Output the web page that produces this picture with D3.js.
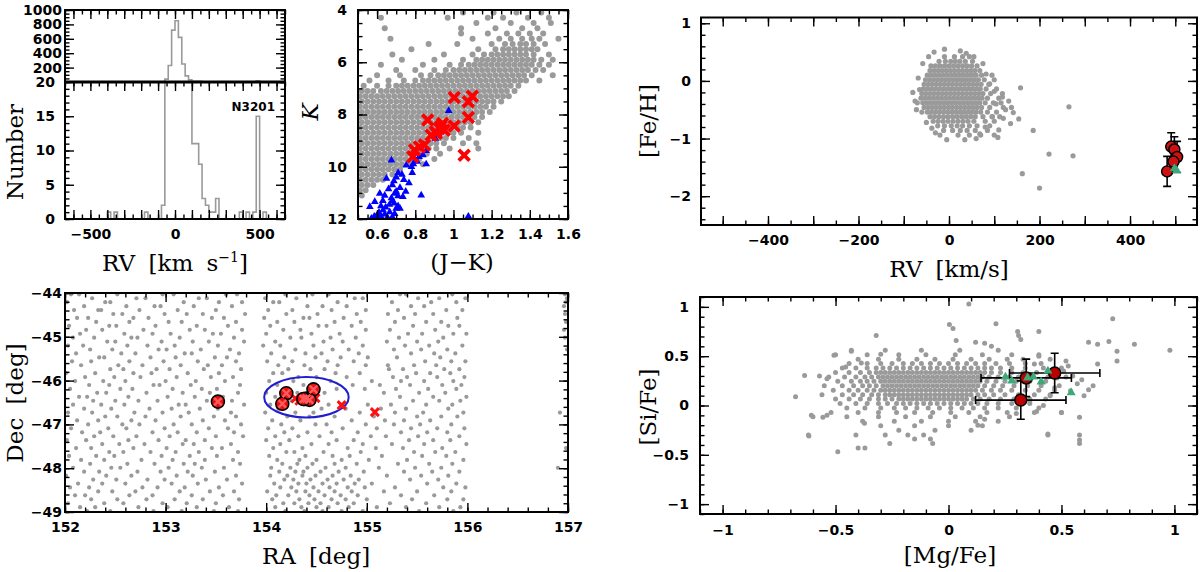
<!DOCTYPE html>
<html>
<head>
<meta charset="utf-8">
<script src="https://cdn.jsdelivr.net/npm/d3@7"></script>
<style>
  body { margin: 0; background: #fff; }
  .axis text { font-family: "DejaVu Sans", sans-serif; font-weight: bold; font-size: 14px; fill: #000; }
  .axis line { stroke: #000; stroke-width: 1.4; }
  .title { font-family: "DejaVu Serif", serif; font-size: 23px; fill: #000; }
  .frame { fill: none; stroke: #000; stroke-width: 2; }
</style>
</head>
<body>
<svg id="chart" width="1200" height="572"></svg>
<script>
// ---------------- data ----------------
// RV histogram (20 km/s bins, only non-empty bins listed)
var rvBinLo = [-400, -360, -180, -80, -60, -40, -20, 0, 20, 40, 60, 80, 100, 120, 140, 160, 180, 200, 220, 240, 380, 420, 460, 480, 520];
var rvBinN  = [1, 1, 1, 2, 40, 230, 720, 850, 620, 250, 85, 30, 11, 11, 8, 3, 2, 1, 1, 3, 1, 1, 1, 15, 1];
var rvBinWidth = 20;

// CMD field stars: [K, "J-K in hundredths"]
var cmdGray = [
  [4.1, "105 121 133 146"],
  [4.3, "62 97 118 126 139 150"],
  [4.5, "112 130 142 151"],
  [4.7, "64 104 122 136 144"],
  [4.9, "104 118 128 134 140 147"],
  [5.1, "67 110 124 130 136 141 145 155"],
  [5.3, "87 102 120 127 131 135 138 142 148"],
  [5.5, "78 113 122 126 129 132 135 138 141 144"],
  [5.7, "68 95 110 116 120 123 126 129 132 135 138 142 150"],
  [5.9, "73 90 105 112 115 118 121 124 127 130 133 136 139 142 146 152"],
  [6.1, "62 84 98 104 108 111 114 117 120 123 126 129 132 135 138 141 145 150"],
  [6.3, "70 80 90 96 100 103 106 109 112 115 118 121 124 127 130 133 136 139 143 147"],
  [6.5, "60 72 83 88 92 95 98 101 104 107 110 113 116 119 122 125 128 131 134 137 141 152"],
  [6.7, "56 66 74 80 84 87 90 93 96 99 102 105 108 111 114 117 120 123 126 129 132 135 138 145"],
  [6.9, "53 60 66 70 73 76 79 82 85 88 91 94 97 100 103 106 109 112 115 118 121 124 127 130 134"],
  [7.1, "52 55 58 62 65 68 71 74 77 80 83 86 89 92 95 98 101 104 107 110 113 116 119 122 125 128 132"],
  [7.3, "51 54 57 60 63 66 69 72 75 78 81 84 87 90 93 96 99 102 105 108 111 114 117 120 123 126 129"],
  [7.5, "52 55 58 61 64 67 70 73 76 79 82 85 88 91 94 97 100 103 106 109 112 115 118 121 125"],
  [7.7, "51 54 57 60 63 66 69 72 75 78 81 84 87 90 93 96 99 102 105 108 111 114 117 121"],
  [7.9, "52 55 58 61 64 67 70 73 76 79 82 85 88 91 94 97 100 103 106 109 112 115 119"],
  [8.1, "51 54 57 60 63 66 69 72 75 78 81 84 87 90 93 96 99 102 105 108 111 115"],
  [8.3, "52 55 58 61 64 67 70 73 76 79 82 85 88 91 94 97 100 103 106 109 113"],
  [8.5, "51 54 57 60 63 66 69 72 75 78 81 84 87 90 93 96 99 102 105 109"],
  [8.7, "52 55 58 61 64 67 70 73 76 79 82 85 88 91 94 97 100 104 113"],
  [8.9, "51 54 57 60 63 66 69 72 75 78 81 84 87 90 93 96 100 108"],
  [9.1, "52 55 58 61 64 67 70 73 76 79 82 85 88 91 95 105 112"],
  [9.3, "51 54 57 60 63 66 69 72 75 78 81 84 87 91 98 113"],
  [9.5, "52 55 58 61 64 67 70 73 76 79 82 86 93"],
  [9.7, "51 54 57 60 63 66 69 72 75 78 82 90"],
  [9.9, "52 55 58 61 64 67 70 73 77 84"],
  [10.1, "51 54 57 60 63 66 69 72"],
  [10.3, "52 55 58 61 64 68"],
  [10.5, "51 54 57 60 63"],
  [10.7, "52 55 58"],
  [10.9, "51 54"],
  [11.1, "52"]
];
var cmdXJK = [1.004, 1.078, 1.099, 1.078, 0.865, 1.004, 0.943, 0.926, 0.905, 0.883, 0.952, 0.848, 0.822, 0.796, 0.787, 1.056, 0.91, 0.935];
var cmdXK  = [7.35, 7.51, 7.30, 8.11, 8.21, 8.44, 8.34, 8.53, 8.66, 8.79, 8.60, 9.17, 9.24, 9.36, 9.62, 9.56, 8.72, 8.45];
var cmdTriJK = [0.975, 0.905, 0.857, 0.84, 0.82, 0.80, 0.675, 0.753, 0.857, 0.784, 0.71, 0.73, 0.70, 0.767, 0.831, 0.649, 0.68, 0.66, 0.70, 0.72,
                0.614, 0.692, 0.71, 0.675, 0.562, 0.588, 0.631, 0.666, 0.692, 0.60, 0.62, 0.64, 0.655, 0.68, 0.70, 0.61, 0.585, 0.645, 0.665, 0.69,
                0.72, 0.735, 0.75, 0.63, 1.078, 0.78, 0.79, 0.81, 0.74, 0.688, 0.64, 0.68, 0.62, 0.71, 0.65, 0.60, 0.57];
var cmdTriK  = [7.86, 8.92, 9.39, 9.55, 9.62, 9.75, 9.75, 9.94, 9.90, 10.23, 10.23, 10.3, 10.4, 10.62, 11.09, 10.45, 10.7, 10.85, 10.95, 10.8,
                11.02, 11.02, 11.12, 11.2, 11.53, 11.34, 11.66, 11.73, 11.8, 11.85, 11.9, 11.82, 11.95, 11.92, 11.6, 11.75, 11.9, 11.55, 11.45, 11.4,
                11.6, 11.15, 10.95, 11.3, 11.9, 10.0, 9.9, 9.8, 10.5, 10.55, 11.1, 11.3, 11.5, 11.5, 12.0, 12.0, 11.98];

// sky positions: [Dec, "(RA - 152) in hundredths"]
var skyGray = [
  [-44.03, "6 14 52 97 108 160 171 219 246 262 333 339 385 497"],
  [-44.12, "27 71 80 133 141 199 230 288 296 351 372 398 499"],
  [-44.21, "2 40 45 118 153 176 207 213 271 325 364 389 498"],
  [-44.30, "19 61 89 95 128 166 241 256 280 344 357 496"],
  [-44.39, "9 33 36 74 112 150 202 226 265 299 331 379 395"],
  [-44.48, "48 57 99 121 137 179 220 251 290 321 348 366 497"],
  [-44.57, "12 23 68 83 146 158 198 237 243 277 337 390"],
  [-44.66, "31 64 103 116 170 211 228 268 294 328 359 374 498"],
  [-44.75, "4 44 51 90 131 162 204 252 260 285 346 381 392"],
  [-44.84, "21 37 78 124 139 176 217 234 299 323 368 496"],
  [-44.93, "15 59 87 105 147 155 200 245 273 341 355 386 399"],
  [-45.02, "8 29 66 72 114 168 224 235 264 289 332 376 497"],
  [-45.11, "42 50 96 127 143 178 209 257 276 320 350 371"],
  [-45.20, "3 18 62 82 109 152 197 214 247 296 338 362 395"],
  [-45.29, "25 47 93 101 135 164 229 266 282 327 354 380 499"],
  [-45.38, "11 56 70 119 126 173 205 239 255 292 344 367 388"],
  [-45.47, "34 39 85 110 149 161 218 249 274 301 330 373"],
  [-45.56, "7 26 64 98 132 170 201 226 261 287 358 384 398"],
  [-45.65, "16 53 77 115 142 156 212 238 271 299 321 347 369"],
  [-45.74, "45 58 91 104 138 175 222 244 258 322 336 377 392"],
  [-45.83, "1 30 68 86 122 153 207 216 269 293 349 363 383"],
  [-45.92, "20 49 75 111 145 167 232 250 280 326 340 370 397"],
  [-46.01, "10 38 60 100 130 159 203 227 264 305 334 357 386"],
  [-46.10, "24 44 88 94 125 174 211 237 286 313 343 375 394"],
  [-46.19, "5 55 67 107 136 151 218 245 270 298 329 361 389"],
  [-46.28, "32 41 81 117 144 172 200 231 258 317 352 378"],
  [-46.37, "14 22 63 102 129 157 209 240 333 366 399"],
  [-46.46, "28 50 73 92 141 166 225 346 372 393"],
  [-46.55, "8 36 59 113 120 178 204 238 262 301 324 359 385"],
  [-46.64, "19 46 84 106 134 152 212 255 279 314 339 381"],
  [-46.73, "3 27 69 97 123 165 199 229 247 293 328 356 396 492"],
  [-46.82, "40 52 80 115 148 170 221 243 268 307 350 374 390"],
  [-46.91, "12 33 66 90 137 159 206 234 285 318 337 363"],
  [-47.00, "23 57 74 108 126 175 215 249 260 299 327 353 384"],
  [-47.09, "6 43 61 99 143 162 202 226 276 310 344 370 397"],
  [-47.18, "17 35 87 112 131 168 218 241 265 291 334 360 380"],
  [-47.27, "29 48 71 104 150 177 209 232 253 304 319 351 392"],
  [-47.36, "2 21 63 93 120 139 200 223 270 287 342 366 383"],
  [-47.45, "37 54 79 117 128 165 214 245 262 296 325 357 399"],
  [-47.54, "11 26 68 101 146 156 207 236 281 309 336 375 498"],
  [-47.63, "44 58 85 110 133 172 220 228 257 294 347 368 388"],
  [-47.72, "4 31 49 96 124 151 203 239 266 283 315 355 379"],
  [-47.81, "16 39 76 107 139 167 211 233 250 275 302 340 396"],
  [-47.90, "25 62 89 118 129 174 216 231 246 268 290 331 362 385"],
  [-47.99, "8 46 55 103 136 158 205 224 241 259 279 312 348 374 490"],
  [-48.08, "19 34 72 95 122 149 213 229 237 254 272 297 337 365 392"],
  [-48.17, "1 41 66 111 127 170 204 221 236 249 266 284 320 354 381"],
  [-48.26, "28 51 82 99 140 161 218 227 244 261 277 292 343 371"],
  [-48.35, "13 37 60 106 132 176 208 232 240 256 270 288 305 360 389"],
  [-48.44, "5 24 77 92 119 153 214 225 247 263 281 298 328 376 398"],
  [-48.53, "33 47 70 114 144 168 201 230 239 252 268 285 317 350 384"],
  [-48.62, "10 20 64 87 126 157 210 222 243 258 274 291 334 367"],
  [-48.71, "26 52 81 109 137 173 206 233 248 265 279 300 345 380 396"],
  [-48.80, "3 39 58 97 121 150 217 228 242 254 271 287 323 359"],
  [-48.89, "15 30 73 102 131 163 209 235 250 262 282 310 339 372 393"],
  [-48.98, "22 45 88 116 148 172 219 238 256 275 296 352 386"]
];
var memRA  = [153.52, 154.20, 154.16, 154.47, 154.40, 154.43, 154.37];
var memDec = [-46.48, -46.29, -46.53, -46.20, -46.41, -46.44, -46.42];
var candRA  = [154.29, 154.33, 154.49, 154.75, 155.08];
var candDec = [-46.41, -46.46, -46.40, -46.56, -46.72];
var clusterCentre = [154.40, -46.38];
var clusterRadius = [0.42, 0.46];

// [Fe/H] vs RV field stars: [FeH, "RV values"]
var feGray = [
  [0.42, "-10 12 30 45"],
  [0.34, "-22 -8 4 14 24 36 52"],
  [0.26, "-40 -30 -20 -10 0 10 20 30 40 50 62"],
  [0.18, "-42 -33 -24 -15 -6 3 12 21 30 39 48 57 68"],
  [0.10, "-48 -39 -30 -21 -12 -3 6 15 24 33 42 51 60 72 95"],
  [0.02, "-52 -43 -34 -25 -16 -7 2 11 20 29 38 47 56 65 78 100"],
  [-0.06, "-55 -46 -37 -28 -19 -10 -1 8 17 26 35 44 53 62 71 88"],
  [-0.14, "-57 -48 -39 -30 -21 -12 -3 6 15 24 33 42 51 60 69 82 105"],
  [-0.22, "-60 -51 -42 -33 -24 -15 -6 3 12 21 30 39 48 57 66 75 92 118"],
  [-0.30, "-62 -53 -44 -35 -26 -17 -8 1 10 19 28 37 46 55 64 73 85 110"],
  [-0.38, "-70 -58 -49 -40 -31 -22 -13 -4 5 14 23 32 41 50 59 68 80 98 115"],
  [-0.46, "-55 -46 -37 -28 -19 -10 -1 8 17 26 35 44 53 62 72 90 120 138"],
  [-0.54, "-60 -48 -39 -30 -21 -12 -3 6 15 24 33 42 51 60 70 85 105"],
  [-0.62, "-42 -32 -22 -12 -2 8 18 28 38 48 58 75 95 112"],
  [-0.70, "-35 -24 -13 -2 9 20 31 42 55 80 100"],
  [-0.78, "-25 -10 5 18 30 45 62 90"],
  [-0.86, "-12 8 25 40 58 85"],
  [-0.94, "-20 20 45 70 100"],
  [-1.02, "-5 35"]
];
var feOutRV  = [158, 265, 186, 221, 274, 162, 200, 154, 136, 118, 125, 110, -65, -75, 60, -33, 38,
                -80, -72, -68, -58, -50, -45, -30, -38, 75, 82, 90, 100, 104, 96, 120, 80, 68, 108, -10, 25, 55, 132, 142];
var feOutFeH = [-0.12, -0.45, -0.86, -1.27, -1.30, -1.61, -1.86, -0.66, -0.74, -0.28, -0.50, -0.85, -0.15, -0.35, -1.0, 0.50, 0.48,
                -0.2, -0.5, 0.05, 0.3, -0.72, 0.42, -0.9, -0.82, 0.3, 0.12, -0.05, -0.18, -0.4, -0.62, -0.65, -0.8, -0.92, -0.98, 0.55, 0.52, 0.42, -0.35, -0.55];
var memRV     = [491, 498, 504, 496, 482];
var memFeH    = [-1.14, -1.19, -1.32, -1.40, -1.57];
var memFeHErr = [0.24, 0.22, 0.27, 0.08, 0.26];
var triRV  = [498, 503];
var triFeH = [-1.52, -1.55];

// [Si/Fe] vs [Mg/Fe] field stars: [SiFe, "MgFe in hundredths"]
var siGray = [
  [0.56, "-43 -28 -12 5 22"],
  [0.515, "-50 -36 -22 -10 3 15 28 40"],
  [0.47, "-40 -31 -22 -14 -6 2 10 18 26 33"],
  [0.425, "-44 -36 -30 -25 -20 -16 -12 -8 -4 0 4 8 12 16 21 27 34 41"],
  [0.38, "-47 -41 -36 -32 -29 -26 -23 -20 -17 -14 -11 -8 -5 -2 1 4 7 10 13 16 19 23 28 34 42 50"],
  [0.335, "-50 -44 -39 -35 -32 -30 -28 -26 -24 -22 -20 -18 -16 -14 -12 -10 -8 -6 -4 -2 0 2 4 6 8 10 12 14 16 19 23 28 33 39 46"],
  [0.29, "-53 -46 -41 -37 -34 -31 -29 -27 -25 -23 -21 -19 -17 -15 -13 -11 -9 -7 -5 -3 -1 1 3 5 7 9 11 13 15 18 22 27 31 37 44 52"],
  [0.245, "-49 -43 -39 -36 -33 -30 -28 -26 -24 -22 -20 -18 -16 -14 -12 -10 -8 -6 -4 -2 0 2 4 6 8 10 12 14 17 21 25 30 36 43"],
  [0.2, "-55 -47 -42 -38 -35 -32 -29 -27 -25 -23 -21 -19 -17 -15 -13 -11 -9 -7 -5 -3 -1 1 3 5 7 9 11 13 16 20 24 29 35 41 49"],
  [0.155, "-51 -44 -40 -36 -33 -30 -28 -26 -24 -22 -20 -18 -16 -14 -12 -10 -8 -6 -4 -2 0 2 4 6 8 10 12 15 19 23 28 34 40 47"],
  [0.11, "-56 -47 -42 -38 -34 -31 -28 -26 -24 -22 -20 -18 -16 -14 -12 -10 -8 -6 -4 -2 0 2 4 6 8 10 13 16 20 25 31 38 45"],
  [0.065, "-50 -44 -39 -35 -31 -28 -25 -22 -20 -18 -16 -14 -12 -10 -8 -6 -4 -2 0 2 4 6 8 11 14 18 23 29 36 43"],
  [0.02, "-48 -41 -36 -31 -27 -23 -20 -17 -14 -11 -8 -5 -2 1 4 7 10 13 17 22 28 36"],
  [-0.025, "-45 -37 -30 -24 -19 -14 -9 -4 1 6 11 16 22 30 40"],
  [-0.07, "-52 -40 -31 -23 -15 -7 1 9 17 26 38 50"],
  [-0.115, "-60 -45 -31 -19 -8 3 14 27"],
  [-0.16, "-38 -24 -12 0 12 22"],
  [-0.205, "-30 -15 0 15"],
  [-0.25, "-22 -6 10"],
  [-0.30, "-62 -28 -18 -11 44 58"],
  [-0.34, "-15 -8"],
  [-0.385, "-26 -7 58"],
  [-0.43, "-40 -37"],
  [-0.47, "-49"]
];
var siOutMg = [-0.677, -0.637, -0.618, -0.607, -0.571, -0.556, -0.538, -0.538, -0.507, -0.455, -0.43, -0.386, -0.32, -0.30,
               0.09, 0.004, 0.02, 0.21, 0.306, 0.40, 0.31, 0.32, 0.034, 0.12, 0.16, 0.19, 0.727, 0.823, 0.62, 0.66, 0.71,
               0.746, 0.746, 0.66, 0.98, 0.59, 0.62, 0.64, 0.58, 0.58, 0.50, 0.44, 0.42, 0.39, 0.52, 0.53, 0.51, 0.40, 0.45,
               0.48, 0.38, 0.55, 0.57, 0.60, 0.54, 0.47, 0.45, 0.36, 0.30, 0.16, 0.13, -0.372, -0.41];
var siOutSi = [0.088, 0.305, -0.31, -0.10, 0.30, -0.12, -0.10, 0.27, 0.51, 0.39, 0.55, 0.43, 0.71, 0.52,
               1.03, 0.82, 0.78, 0.83, 0.75, 0.75, 0.71, 0.67, 0.66, 0.64, 0.63, 0.60, 0.88, 0.62, 0.64, 0.62, 0.65,
               0.55, 0.45, 0.42, 0.56, 0.26, 0.16, 0.20, -0.12, -0.35, -0.07, -0.29, 0.0, -0.06, 0.45, 0.40, 0.35, 0.50, 0.47,
               0.28, 0.42, 0.30, 0.22, 0.10, 0.15, 0.18, 0.10, 0.05, -0.08, -0.14, -0.2, -0.18, -0.30];
var memMg    = [0.344, 0.32, 0.47];
var memSi    = [0.28, 0.055, 0.33];
var memMgErr = [0.2, 0.2, 0.2];
var memSiErr = [0.19, 0.195, 0.2];
var triMg = [0.252, 0.28, 0.35, 0.376, 0.41, 0.44, 0.543];
var triSi = [0.29, 0.25, 0.28, 0.29, 0.24, 0.35, 0.13];

// ---------------- helpers ----------------
var svg = d3.select("#chart");
var gray = "#9a9a9a";

function fmt(v){ return String(v).replace("-", "\u2212"); }
function ticks(a, b, s){ return d3.range(a, b + s / 2, s).map(function(v){ return +v.toFixed(4); }); }

function rowsToPoints(rows, scale, offset){
  var pts = [];
  rows.forEach(function(r){
    r[1].trim().split(/\s+/).forEach(function(v){ pts.push([offset + (+v) * scale, r[0]]); });
  });
  return pts;
}

var clipN = 0;
function clipped(x, y){
  var id = "clip" + (clipN++);
  var xr = x.range(), yr = y.range();
  svg.append("clipPath").attr("id", id).append("rect")
    .attr("x", Math.min(xr[0], xr[1])).attr("y", Math.min(yr[0], yr[1]))
    .attr("width", Math.abs(xr[1] - xr[0])).attr("height", Math.abs(yr[1] - yr[0]));
  return svg.append("g").attr("clip-path", "url(#" + id + ")");
}

function axes(x, y, o){
  var xr = x.range(), yr = y.range();
  var left = Math.min(xr[0], xr[1]), right = Math.max(xr[0], xr[1]);
  var top = Math.min(yr[0], yr[1]), bottom = Math.max(yr[0], yr[1]);
  var sides = o.sides || "tblr";
  function labeler(list){
    return function(d){ return list.some(function(v){ return Math.abs(v - d) < 1e-6; }) ? fmt(d) : ""; };
  }
  function add(fn, scale, vals, len, tf, pad, tr){
    svg.append("g").attr("class", "axis").attr("transform", tr)
      .call(fn(scale).tickValues(vals).tickSize(-len).tickPadding(pad || 0)
        .tickFormat(tf || function(){ return ""; }))
      .call(function(a){ a.select(".domain").remove(); });
  }
  if (sides.indexOf("b") >= 0) {
    add(d3.axisBottom, x, o.xMinor, 4.5, null, 0, "translate(0," + bottom + ")");
    add(d3.axisBottom, x, o.xMajor, 9, o.xLabels ? labeler(o.xLabels) : null, o.xPad, "translate(0," + bottom + ")");
  }
  if (sides.indexOf("t") >= 0) {
    add(d3.axisTop, x, o.xMinor, 4.5, null, 0, "translate(0," + top + ")");
    add(d3.axisTop, x, o.xMajor, 9, null, 0, "translate(0," + top + ")");
  }
  if (sides.indexOf("l") >= 0) {
    add(d3.axisLeft, y, o.yMinor, 4.5, null, 0, "translate(" + left + ",0)");
    add(d3.axisLeft, y, o.yMajor, 9, o.yLabels ? labeler(o.yLabels) : null, o.yPad, "translate(" + left + ",0)");
  }
  if (sides.indexOf("r") >= 0) {
    add(d3.axisRight, y, o.yMinor, 4.5, null, 0, "translate(" + right + ",0)");
    add(d3.axisRight, y, o.yMajor, 9, null, 0, "translate(" + right + ",0)");
  }
}

function box(x, y){
  var xr = x.range(), yr = y.range();
  svg.append("rect").attr("class", "frame")
    .attr("x", Math.min(xr[0], xr[1])).attr("y", Math.min(yr[0], yr[1]))
    .attr("width", Math.abs(xr[1] - xr[0])).attr("height", Math.abs(yr[1] - yr[0]));
}

function dots(g, pts, x, y, r){
  g.selectAll(null).data(pts).enter().append("circle")
    .attr("cx", function(d){ return x(d[0]); }).attr("cy", function(d){ return y(d[1]); })
    .attr("r", r).attr("fill", gray);
}

function crosses(g, pts, x, y, s, color, w){
  g.selectAll(null).data(pts).enter().append("path")
    .attr("transform", function(d){ return "translate(" + x(d[0]) + "," + y(d[1]) + ")"; })
    .attr("d", "M" + (-s) + "," + (-s) + "L" + s + "," + s + "M" + (-s) + "," + s + "L" + s + "," + (-s))
    .attr("stroke", color).attr("stroke-width", w).attr("fill", "none");
}

function triangles(g, pts, x, y, size, color){
  g.selectAll(null).data(pts).enter().append("path")
    .attr("transform", function(d){ return "translate(" + x(d[0]) + "," + y(d[1]) + ")"; })
    .attr("d", d3.symbol(d3.symbolTriangle, size)())
    .attr("fill", color);
}

function title(txt, cx, cy, rotate, italic){
  var t = svg.append("text").attr("class", "title").attr("text-anchor", "middle").text(txt);
  if (rotate) {
    t.attr("transform", "translate(" + cx + "," + cy + ") rotate(-90)").attr("dominant-baseline", "central");
  } else {
    t.attr("x", cx).attr("y", cy);
  }
  if (italic) t.style("font-style", "italic");
  return t;
}

// ---------------- panel 1: RV histogram ----------------
var hx = d3.scaleLinear().domain([-650, 650]).range([65, 285]);
var hyTop = d3.scaleLinear().domain([0, 1000]).range([82, 10]);
var hyLow = d3.scaleLinear().domain([0, 20]).range([219, 82]);

var binCount = new Map(rvBinLo.map(function(b, i){ return [b, rvBinN[i]]; }));
var steps = d3.range(-660, 661, rvBinWidth).map(function(b){ return [b, binCount.get(b) || 0]; });

[hyTop, hyLow].forEach(function(hy){
  clipped(hx, hy).append("path").datum(steps)
    .attr("d", d3.line().x(function(d){ return hx(d[0]); }).y(function(d){ return hy(d[1]); }).curve(d3.curveStepAfter))
    .attr("fill", "none").attr("stroke", gray).attr("stroke-width", 1.6);
});

axes(hx, hyTop, { sides: "tlr", xMajor: ticks(-600, 600, 100), xMinor: ticks(-650, 650, 50),
  yMajor: ticks(200, 1000, 200), yMinor: ticks(0, 1000, 50), yLabels: [200, 400, 600, 800, 1000], yPad: 3 });
axes(hx, hyLow, { sides: "tblr", xMajor: ticks(-600, 600, 100), xMinor: ticks(-650, 650, 50), xLabels: [-500, 0, 500], xPad: 10,
  yMajor: ticks(0, 20, 5), yMinor: ticks(0, 20, 1), yLabels: [0, 5, 10, 15, 20], yPad: 10 });
svg.append("rect").attr("class", "frame").attr("x", 65).attr("y", 10).attr("width", 220).attr("height", 209);
svg.append("line").attr("x1", 65).attr("x2", 285).attr("y1", 82).attr("y2", 82).attr("stroke", "#000").attr("stroke-width", 3);
svg.append("text").attr("x", 275).attr("y", 111).attr("text-anchor", "end")
  .style("font-family", "DejaVu Sans").style("font-weight", "bold").style("font-size", "12px").text("N3201");

title("Number", 15, 152, true);
var rvT = svg.append("text").attr("class", "title").attr("text-anchor", "middle").attr("x", 175).attr("y", 271)
  .style("word-spacing", "6px");
rvT.append("tspan").text("RV [km s");
rvT.append("tspan").attr("dy", -9).style("font-size", "14px").text("\u22121");
rvT.append("tspan").attr("dy", 9).text("]");

// ---------------- panel 2: CMD ----------------
var cx = d3.scaleLinear().domain([0.5, 1.6]).range([358, 568]);
var cy = d3.scaleLinear().domain([4, 12]).range([10, 219]);
var cg = clipped(cx, cy);
dots(cg, rowsToPoints(cmdGray, 0.01, 0), cx, cy, 3.0);
triangles(cg, d3.zip(cmdTriJK, cmdTriK), cx, cy, 26, "#0000ff");
crosses(cg, d3.zip(cmdXJK, cmdXK), cx, cy, 5.4, "#ff0000", 3.8);
axes(cx, cy, { xMajor: ticks(0.6, 1.6, 0.2), xMinor: ticks(0.5, 1.6, 0.05), xLabels: [0.6, 0.8, 1, 1.2, 1.4, 1.6], xPad: 10,
  yMajor: ticks(4, 12, 2), yMinor: ticks(4, 12, 0.5), yLabels: [4, 6, 8, 10, 12], yPad: 11 });
box(cx, cy);
title("K", 310, 112, true, true);
title("(J\u2212K)", 462, 270);

// ---------------- panel 3: sky ----------------
var sx = d3.scaleLinear().domain([152, 157]).range([65, 568]);
var sy = d3.scaleLinear().domain([-44, -49]).range([293, 512]);
var sg = clipped(sx, sy);
dots(sg, rowsToPoints(skyGray, 0.01, 152), sx, sy, 2.1);
sg.append("ellipse")
  .attr("cx", sx(clusterCentre[0])).attr("cy", sy(clusterCentre[1]))
  .attr("rx", sx(clusterCentre[0] + clusterRadius[0]) - sx(clusterCentre[0]))
  .attr("ry", sy(clusterCentre[1] - clusterRadius[1]) - sy(clusterCentre[1]))
  .attr("fill", "none").attr("stroke", "#1f1fd0").attr("stroke-width", 2);
crosses(sg, d3.zip(candRA, candDec), sx, sy, 4, "#ff1010", 3);
var mem = d3.zip(memRA, memDec);
sg.selectAll(null).data(mem).enter().append("circle")
  .attr("cx", function(d){ return sx(d[0]); }).attr("cy", function(d){ return sy(d[1]); })
  .attr("r", 6.5).attr("fill", "#e81010").attr("stroke", "#000").attr("stroke-width", 1.6);
crosses(sg, mem, sx, sy, 3.8, "#ff5a5a", 2.4);
axes(sx, sy, { xMajor: ticks(152, 157, 1), xMinor: ticks(152, 157, 0.2), xLabels: [152, 153, 154, 155, 156, 157], xPad: 10,
  yMajor: ticks(-49, -44, 1), yMinor: ticks(-49, -44, 0.2), yLabels: [-44, -45, -46, -47, -48, -49], yPad: 3 });
box(sx, sy);
title("Dec [deg]", 15, 403, true).style("word-spacing", "6px");
title("RA [deg]", 316, 564).style("word-spacing", "6px");

// ---------------- panel 4: [Fe/H] vs RV ----------------
var fx = d3.scaleLinear().domain([-548, 548]).range([701, 1197]);
var fy = d3.scaleLinear().domain([-2.5, 1.1]).range([225, 17.5]);
var fg = clipped(fx, fy);
dots(fg, rowsToPoints(feGray, 1, 0).concat(d3.zip(feOutRV, feOutFeH)), fx, fy, 2.6);
var feMem = d3.range(memRV.length).map(function(i){ return [memRV[i], memFeH[i], memFeHErr[i]]; });
feMem.forEach(function(d){
  var xx = fx(d[0]), y1 = fy(d[1] + d[2]), y2 = fy(d[1] - d[2]);
  fg.append("path").attr("d", "M" + xx + "," + y1 + "V" + y2 + "M" + (xx - 4) + "," + y1 + "H" + (xx + 4) + "M" + (xx - 4) + "," + y2 + "H" + (xx + 4))
    .attr("stroke", "#000").attr("stroke-width", 1.6).attr("fill", "none");
});
fg.selectAll(null).data(feMem).enter().append("circle")
  .attr("cx", function(d){ return fx(d[0]); }).attr("cy", function(d){ return fy(d[1]); })
  .attr("r", 5.5).attr("fill", "#d01010").attr("stroke", "#000").attr("stroke-width", 1.5);
triangles(fg, d3.zip(triRV, triFeH), fx, fy, 36, "#3aaa78");
axes(fx, fy, { xMajor: ticks(-500, 500, 100), xMinor: ticks(-500, 500, 50), xLabels: [-400, -200, 0, 200, 400], xPad: 10,
  yMajor: ticks(-2, 1, 1), yMinor: ticks(-2.4, 1, 0.2), yLabels: [-2, -1, 0, 1], yPad: 10 });
box(fx, fy);
title("[Fe/H]", 648, 121, true);
title("RV [km/s]", 949, 277).style("word-spacing", "6px");

// ---------------- panel 5: [Si/Fe] vs [Mg/Fe] ----------------
var mx = d3.scaleLinear().domain([-1.1, 1.1]).range([700, 1197]);
var my = d3.scaleLinear().domain([-1.1, 1.1]).range([514, 297]);
var mg = clipped(mx, my);
dots(mg, rowsToPoints(siGray, 0.01, 0).concat(d3.zip(siOutMg, siOutSi)), mx, my, 2.5);
var siMem = d3.range(memMg.length).map(function(i){ return [memMg[i], memSi[i], memMgErr[i], memSiErr[i]]; });
siMem.forEach(function(d){
  var xx = mx(d[0]), yy = my(d[1]);
  var xa = mx(d[0] - d[2]), xb = mx(d[0] + d[2]), ya = my(d[1] + d[3]), yb = my(d[1] - d[3]);
  mg.append("path")
    .attr("d", "M" + xa + "," + yy + "H" + xb + "M" + xa + "," + (yy - 4) + "V" + (yy + 4) + "M" + xb + "," + (yy - 4) + "V" + (yy + 4)
      + "M" + xx + "," + ya + "V" + yb + "M" + (xx - 4) + "," + ya + "H" + (xx + 4) + "M" + (xx - 4) + "," + yb + "H" + (xx + 4))
    .attr("stroke", "#000").attr("stroke-width", 1.6).attr("fill", "none");
});
mg.selectAll(null).data(siMem).enter().append("circle")
  .attr("cx", function(d){ return mx(d[0]); }).attr("cy", function(d){ return my(d[1]); })
  .attr("r", 6).attr("fill", "#b80000").attr("stroke", "#000").attr("stroke-width", 1.5);
triangles(mg, d3.zip(triMg, triSi), mx, my, 36, "#3aaa78");
axes(mx, my, { xMajor: ticks(-1, 1, 0.5), xMinor: ticks(-1.1, 1.1, 0.1), xLabels: [-1, -0.5, 0, 0.5, 1], xPad: 11,
  yMajor: ticks(-1, 1, 0.5), yMinor: ticks(-1.1, 1.1, 0.1), yLabels: [-1, -0.5, 0, 0.5, 1], yPad: 11 });
box(mx, my);
title("[Si/Fe]", 648, 407, true);
title("[Mg/Fe]", 950, 563);
</script>
</body>
</html>
